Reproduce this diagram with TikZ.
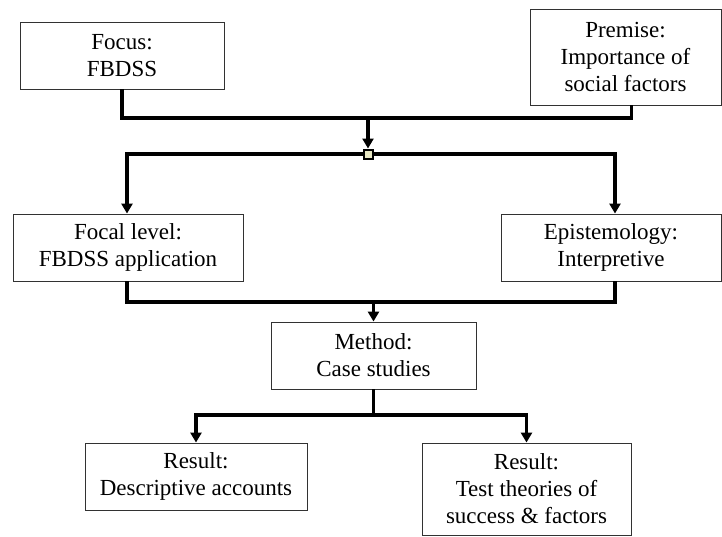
\documentclass[tikz,border=0pt]{standalone}
\usepackage{fontspec}
\setmainfont{Liberation Serif}
\usetikzlibrary{arrows.meta}
\definecolor{boxline}{RGB}{50,50,50}
\definecolor{junctionfill}{RGB}{232,232,196}
\tikzset{
  stepbox/.style={draw=boxline, line width=0.9pt, fill=white, align=center,
    inner sep=0pt, font=\fontsize{23}{27}\selectfont},
  link/.style={line width=3.6pt},
  flow/.style={link, -{Triangle[length=10pt,width=11pt]}},
  junctionbox/.style={draw=black, line width=2pt, fill=junctionfill,
    minimum size=9pt, inner sep=0pt}
}
\begin{document}
\begin{tikzpicture}[x=1pt, y=-1pt]
\useasboundingbox (0,0) rectangle (722,536);

% boxes
\node[stepbox, minimum width=204pt, minimum height=67pt] (focus) at (122,55.5) {Focus:\\FBDSS};
\node[stepbox, minimum width=191pt, minimum height=96pt] (premise) at (625.5,57) {Premise:\\Importance of\\social factors};
\node[stepbox, minimum width=230pt, minimum height=67pt] (focal) at (128,247.5) {Focal level:\\FBDSS application};
\node[stepbox, minimum width=220pt, minimum height=67pt] (epist) at (611,247.5) {Epistemology:\\Interpretive};
\node[stepbox, minimum width=205pt, minimum height=67pt] (method) at (373.5,355.5) {Method:\\Case studies};
\node[stepbox, minimum width=222pt, minimum height=67pt] (res1) at (196,476.5) {Result:\\Descriptive accounts};
\node[stepbox, minimum width=209pt, minimum height=92pt] (res2) at (526.5,489) {Result:\\Test theories of\\success \& factors};

% junction points
\coordinate (top) at (368,118);
\node[junctionbox] (junc) at (368,154) {};
\coordinate (mid) at (373.5,302);
\coordinate (low) at (373.5,415);

% focus and premise merge
\draw[link] (focus.south) |- (top);
\draw[link] ([xshift=6pt]premise.south) |- (top);
\draw[flow] (top) -- (junc.north);

% split to focal level and epistemology
\draw[flow] (junc.center) -| ([xshift=-1pt]focal.north);
\draw[flow] (junc.center) -| ([xshift=4pt]epist.north);

% merge into method
\draw[link] ([xshift=-1pt]focal.south) |- (mid);
\draw[link] ([xshift=4pt]epist.south) |- (mid);
\draw[flow] (mid) -- (method.north);

% split to results
\draw[link] (method.south) -- (low);
\draw[flow] (low) -| (res1.north);
\draw[flow] (low) -| (res2.north);

% junction marker on top of the lines
\node[junctionbox] at (junc) {};
\end{tikzpicture}
\end{document}
